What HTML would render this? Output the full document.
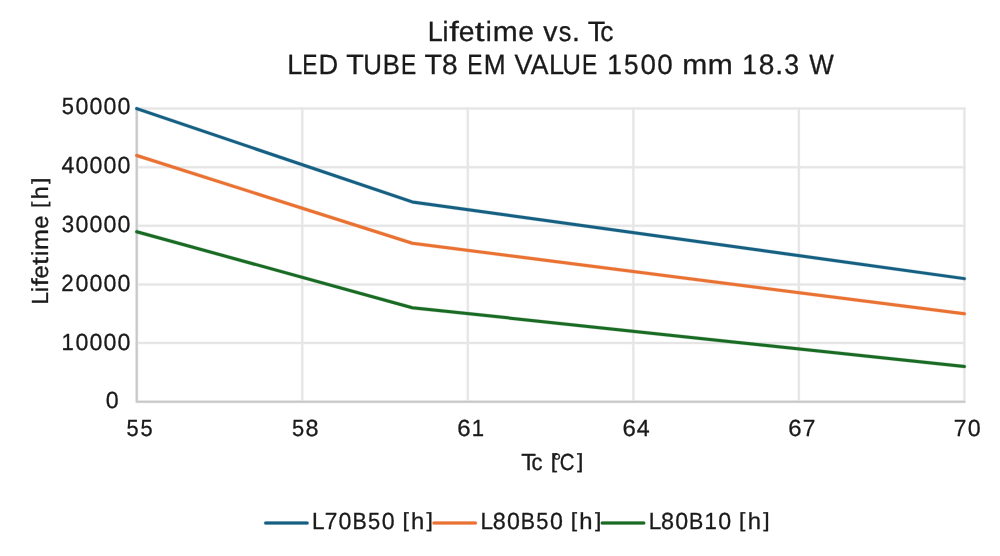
<!DOCTYPE html>
<html lang="en">
<head>
<meta charset="utf-8">
<title>Lifetime vs. Tc</title>
<style>
html,body{margin:0;padding:0;background:#fff;}
body{width:1000px;height:556px;overflow:hidden;}
svg{display:block;}
text{font-family:"Liberation Sans",sans-serif;fill:#1a1a1a;white-space:pre;font-kerning:none;text-rendering:geometricPrecision;stroke:#1a1a1a;stroke-width:0.3px;}
.t{filter:blur(0.3px);}
</style>
</head>
<body>
<svg width="1000" height="556" viewBox="0 0 1000 556">
<rect x="0" y="0" width="1000" height="556" fill="#ffffff"/>
<g fill="none" stroke="#f6f6f6" stroke-width="3.0">
<line x1="136.75" y1="343.12" x2="965.40" y2="343.12"/>
<line x1="136.75" y1="284.49" x2="965.40" y2="284.49"/>
<line x1="136.75" y1="225.86" x2="965.40" y2="225.86"/>
<line x1="136.75" y1="167.23" x2="965.40" y2="167.23"/>
<line x1="136.75" y1="108.60" x2="965.40" y2="108.60"/>
<line x1="302.28" y1="107.60" x2="302.28" y2="401.75"/>
<line x1="467.81" y1="107.60" x2="467.81" y2="401.75"/>
<line x1="633.34" y1="107.60" x2="633.34" y2="401.75"/>
<line x1="798.87" y1="107.60" x2="798.87" y2="401.75"/>
<line x1="964.40" y1="107.60" x2="964.40" y2="401.75"/>
</g>
<g fill="none" stroke="#e5e5e5" stroke-width="2">
<line x1="136.75" y1="343.12" x2="965.40" y2="343.12"/>
<line x1="136.75" y1="284.49" x2="965.40" y2="284.49"/>
<line x1="136.75" y1="225.86" x2="965.40" y2="225.86"/>
<line x1="136.75" y1="167.23" x2="965.40" y2="167.23"/>
<line x1="136.75" y1="108.60" x2="965.40" y2="108.60"/>
<line x1="302.28" y1="107.60" x2="302.28" y2="401.75"/>
<line x1="467.81" y1="107.60" x2="467.81" y2="401.75"/>
<line x1="633.34" y1="107.60" x2="633.34" y2="401.75"/>
<line x1="798.87" y1="107.60" x2="798.87" y2="401.75"/>
<line x1="964.40" y1="107.60" x2="964.40" y2="401.75"/>
</g>
<g fill="none" stroke-linejoin="round" stroke="#ececec" stroke-width="3.2">
<polyline points="136.75,107.60 136.75,401.75 965.40,401.75"/>
</g>
<g fill="none" stroke-linejoin="round" stroke="#c8c8c8" stroke-width="2">
<polyline points="136.75,107.60 136.75,401.75 965.40,401.75"/>
</g>
<g fill="none" stroke-width="4.0" stroke-opacity="0.25" stroke-linecap="round" stroke-linejoin="round">
<polyline stroke="#156082" points="136.75,108.60 412.25,201.91 964.40,278.63"/>
<polyline stroke="#e97132" points="136.75,155.50 412.25,243.21 964.40,313.81"/>
<polyline stroke="#196b24" points="136.75,231.72 412.25,307.68 964.40,366.57"/>
<line stroke="#156082" x1="265.60" y1="523.1" x2="307.20" y2="523.1"/>
<line stroke="#e97132" x1="433.90" y1="523.1" x2="475.50" y2="523.1"/>
<line stroke="#196b24" x1="602.20" y1="523.1" x2="643.80" y2="523.1"/>
</g>
<g fill="none" stroke-width="3" stroke-linecap="round" stroke-linejoin="round">
<polyline stroke="#156082" points="136.75,108.60 412.25,201.91 964.40,278.63"/>
<polyline stroke="#e97132" points="136.75,155.50 412.25,243.21 964.40,313.81"/>
<polyline stroke="#196b24" points="136.75,231.72 412.25,307.68 964.40,366.57"/>
<line stroke="#156082" x1="265.60" y1="523.1" x2="307.20" y2="523.1"/>
<line stroke="#e97132" x1="433.90" y1="523.1" x2="475.50" y2="523.1"/>
<line stroke="#196b24" x1="602.20" y1="523.1" x2="643.80" y2="523.1"/>
</g>
<g class="t">
<text transform="translate(427.30 41.40)" font-size="27.87"><tspan x="0.36" y="0" textLength="15.05" lengthAdjust="spacingAndGlyphs">L</tspan><tspan x="15.32" y="0" textLength="5.97" lengthAdjust="spacingAndGlyphs">i</tspan><tspan x="22.07" y="0" textLength="9.59" lengthAdjust="spacingAndGlyphs">f</tspan><tspan x="31.45" y="0" textLength="15.80" lengthAdjust="spacingAndGlyphs">e</tspan><tspan x="47.56" y="0" textLength="9.77" lengthAdjust="spacingAndGlyphs">t</tspan><tspan x="58.38" y="0" textLength="5.97" lengthAdjust="spacingAndGlyphs">i</tspan><tspan x="65.40" y="0" textLength="24.96" lengthAdjust="spacingAndGlyphs">m</tspan><tspan x="90.87" y="0" textLength="15.80" lengthAdjust="spacingAndGlyphs">e</tspan> <tspan x="115.84" y="0" textLength="14.19" lengthAdjust="spacingAndGlyphs">v</tspan><tspan x="131.44" y="0" textLength="12.61" lengthAdjust="spacingAndGlyphs">s</tspan><tspan x="144.64" y="0" textLength="7.91" lengthAdjust="spacingAndGlyphs">.</tspan> <tspan x="160.42" y="0" textLength="17.52" lengthAdjust="spacingAndGlyphs">T</tspan><tspan x="173.06" y="0" textLength="13.19" lengthAdjust="spacingAndGlyphs">c</tspan></text>
<text transform="translate(286.90 73.65)" font-size="27.92"><tspan x="0.36" y="0" textLength="15.08" lengthAdjust="spacingAndGlyphs">L</tspan><tspan x="15.38" y="0" textLength="15.23" lengthAdjust="spacingAndGlyphs">E</tspan><tspan x="31.66" y="0" textLength="19.69" lengthAdjust="spacingAndGlyphs">D</tspan> <tspan x="59.25" y="0" textLength="17.56" lengthAdjust="spacingAndGlyphs">T</tspan><tspan x="76.35" y="0" textLength="18.70" lengthAdjust="spacingAndGlyphs">U</tspan><tspan x="95.83" y="0" textLength="17.08" lengthAdjust="spacingAndGlyphs">B</tspan><tspan x="114.13" y="0" textLength="15.23" lengthAdjust="spacingAndGlyphs">E</tspan> <tspan x="137.71" y="0" textLength="17.56" lengthAdjust="spacingAndGlyphs">T</tspan><tspan x="155.10" y="0" textLength="15.62" lengthAdjust="spacingAndGlyphs">8</tspan> <tspan x="180.38" y="0" textLength="15.23" lengthAdjust="spacingAndGlyphs">E</tspan><tspan x="196.74" y="0" textLength="21.89" lengthAdjust="spacingAndGlyphs">M</tspan> <tspan x="227.49" y="0" textLength="17.84" lengthAdjust="spacingAndGlyphs">V</tspan><tspan x="243.90" y="0" textLength="17.71" lengthAdjust="spacingAndGlyphs">A</tspan><tspan x="262.13" y="0" textLength="15.08" lengthAdjust="spacingAndGlyphs">L</tspan><tspan x="275.43" y="0" textLength="18.70" lengthAdjust="spacingAndGlyphs">U</tspan><tspan x="295.13" y="0" textLength="15.23" lengthAdjust="spacingAndGlyphs">E</tspan> <tspan x="320.31" y="0" textLength="14.76" lengthAdjust="spacingAndGlyphs">1</tspan><tspan x="337.19" y="0" textLength="14.58" lengthAdjust="spacingAndGlyphs">5</tspan><tspan x="353.61" y="0" textLength="15.45" lengthAdjust="spacingAndGlyphs">0</tspan><tspan x="370.37" y="0" textLength="15.45" lengthAdjust="spacingAndGlyphs">0</tspan> <tspan x="395.26" y="0" textLength="25.01" lengthAdjust="spacingAndGlyphs">m</tspan><tspan x="420.92" y="0" textLength="25.01" lengthAdjust="spacingAndGlyphs">m</tspan> <tspan x="455.42" y="0" textLength="14.76" lengthAdjust="spacingAndGlyphs">1</tspan><tspan x="471.88" y="0" textLength="15.62" lengthAdjust="spacingAndGlyphs">8</tspan><tspan x="488.29" y="0" textLength="7.92" lengthAdjust="spacingAndGlyphs">.</tspan><tspan x="497.43" y="0" textLength="14.84" lengthAdjust="spacingAndGlyphs">3</tspan> <tspan x="522.34" y="0" textLength="24.52" lengthAdjust="spacingAndGlyphs">W</tspan></text>
<text transform="translate(105.60 408.40)" font-size="23.31"><tspan x="0.24" y="0" textLength="12.90" lengthAdjust="spacingAndGlyphs">0</tspan></text>
<text transform="translate(60.88 349.58)" font-size="23.31"><tspan x="0.73" y="0" textLength="12.32" lengthAdjust="spacingAndGlyphs">1</tspan><tspan x="14.53" y="0" textLength="12.90" lengthAdjust="spacingAndGlyphs">0</tspan><tspan x="28.53" y="0" textLength="12.90" lengthAdjust="spacingAndGlyphs">0</tspan><tspan x="42.53" y="0" textLength="12.90" lengthAdjust="spacingAndGlyphs">0</tspan><tspan x="56.53" y="0" textLength="12.90" lengthAdjust="spacingAndGlyphs">0</tspan></text>
<text transform="translate(60.88 290.76)" font-size="23.31"><tspan x="0.49" y="0" textLength="12.43" lengthAdjust="spacingAndGlyphs">2</tspan><tspan x="14.53" y="0" textLength="12.90" lengthAdjust="spacingAndGlyphs">0</tspan><tspan x="28.53" y="0" textLength="12.90" lengthAdjust="spacingAndGlyphs">0</tspan><tspan x="42.53" y="0" textLength="12.90" lengthAdjust="spacingAndGlyphs">0</tspan><tspan x="56.53" y="0" textLength="12.90" lengthAdjust="spacingAndGlyphs">0</tspan></text>
<text transform="translate(60.88 231.94)" font-size="23.31"><tspan x="0.83" y="0" textLength="12.39" lengthAdjust="spacingAndGlyphs">3</tspan><tspan x="14.53" y="0" textLength="12.90" lengthAdjust="spacingAndGlyphs">0</tspan><tspan x="28.53" y="0" textLength="12.90" lengthAdjust="spacingAndGlyphs">0</tspan><tspan x="42.53" y="0" textLength="12.90" lengthAdjust="spacingAndGlyphs">0</tspan><tspan x="56.53" y="0" textLength="12.90" lengthAdjust="spacingAndGlyphs">0</tspan></text>
<text transform="translate(60.88 173.12)" font-size="23.31"><tspan x="0.54" y="0" textLength="12.90" lengthAdjust="spacingAndGlyphs">4</tspan><tspan x="14.53" y="0" textLength="12.90" lengthAdjust="spacingAndGlyphs">0</tspan><tspan x="28.53" y="0" textLength="12.90" lengthAdjust="spacingAndGlyphs">0</tspan><tspan x="42.53" y="0" textLength="12.90" lengthAdjust="spacingAndGlyphs">0</tspan><tspan x="56.53" y="0" textLength="12.90" lengthAdjust="spacingAndGlyphs">0</tspan></text>
<text transform="translate(60.88 114.30)" font-size="23.31"><tspan x="0.82" y="0" textLength="12.17" lengthAdjust="spacingAndGlyphs">5</tspan><tspan x="14.53" y="0" textLength="12.90" lengthAdjust="spacingAndGlyphs">0</tspan><tspan x="28.53" y="0" textLength="12.90" lengthAdjust="spacingAndGlyphs">0</tspan><tspan x="42.53" y="0" textLength="12.90" lengthAdjust="spacingAndGlyphs">0</tspan><tspan x="56.53" y="0" textLength="12.90" lengthAdjust="spacingAndGlyphs">0</tspan></text>
<text transform="translate(125.77 436.25)" font-size="23.31"><tspan x="0.82" y="0" textLength="12.17" lengthAdjust="spacingAndGlyphs">5</tspan><tspan x="14.81" y="0" textLength="12.17" lengthAdjust="spacingAndGlyphs">5</tspan></text>
<text transform="translate(291.11 436.25)" font-size="23.31"><tspan x="0.82" y="0" textLength="12.17" lengthAdjust="spacingAndGlyphs">5</tspan><tspan x="14.46" y="0" textLength="13.04" lengthAdjust="spacingAndGlyphs">8</tspan></text>
<text transform="translate(457.00 436.25)" font-size="23.31"><tspan x="0.32" y="0" textLength="13.35" lengthAdjust="spacingAndGlyphs">6</tspan><tspan x="14.71" y="0" textLength="12.32" lengthAdjust="spacingAndGlyphs">1</tspan></text>
<text transform="translate(622.15 436.25)" font-size="23.31"><tspan x="0.32" y="0" textLength="13.35" lengthAdjust="spacingAndGlyphs">6</tspan><tspan x="14.53" y="0" textLength="12.90" lengthAdjust="spacingAndGlyphs">4</tspan></text>
<text transform="translate(788.02 436.25)" font-size="23.31"><tspan x="0.32" y="0" textLength="13.35" lengthAdjust="spacingAndGlyphs">6</tspan><tspan x="14.63" y="0" textLength="12.62" lengthAdjust="spacingAndGlyphs">7</tspan></text>
<text transform="translate(953.23 436.25)" font-size="23.31"><tspan x="0.64" y="0" textLength="12.62" lengthAdjust="spacingAndGlyphs">7</tspan><tspan x="14.53" y="0" textLength="12.90" lengthAdjust="spacingAndGlyphs">0</tspan></text>
<text transform="translate(48.00 304.70) rotate(-90)" font-size="23.31"><tspan x="0.30" y="0" textLength="12.59" lengthAdjust="spacingAndGlyphs">L</tspan><tspan x="12.82" y="0" textLength="5.00" lengthAdjust="spacingAndGlyphs">i</tspan><tspan x="18.46" y="0" textLength="8.03" lengthAdjust="spacingAndGlyphs">f</tspan><tspan x="26.31" y="0" textLength="13.22" lengthAdjust="spacingAndGlyphs">e</tspan><tspan x="39.79" y="0" textLength="8.17" lengthAdjust="spacingAndGlyphs">t</tspan><tspan x="48.83" y="0" textLength="5.00" lengthAdjust="spacingAndGlyphs">i</tspan><tspan x="54.71" y="0" textLength="20.88" lengthAdjust="spacingAndGlyphs">m</tspan><tspan x="76.02" y="0" textLength="13.22" lengthAdjust="spacingAndGlyphs">e</tspan> <tspan x="96.60" y="-1.87" font-size="20.34" textLength="6.37" lengthAdjust="spacingAndGlyphs">[</tspan><tspan x="105.26" y="0" textLength="13.28" lengthAdjust="spacingAndGlyphs">h</tspan><tspan x="120.82" y="-1.87" font-size="20.34" textLength="6.37" lengthAdjust="spacingAndGlyphs">]</tspan></text>
<text transform="translate(522.30 470.00)" font-size="23.31"><tspan x="-1.00" y="0" textLength="14.66" lengthAdjust="spacingAndGlyphs">T</tspan><tspan x="9.26" y="0" textLength="11.04" lengthAdjust="spacingAndGlyphs">c</tspan> <tspan x="28.54" y="-1.87" font-size="20.34" textLength="6.37" lengthAdjust="spacingAndGlyphs">[</tspan><tspan x="30.27" y="-1.22" font-size="22.15">°</tspan><tspan x="37.36" y="0" textLength="14.75" lengthAdjust="spacingAndGlyphs">C</tspan><tspan x="54.68" y="-1.87" font-size="20.34" textLength="6.37" lengthAdjust="spacingAndGlyphs">]</tspan></text>
<text transform="translate(311.80 529.00)" font-size="23.31"><tspan x="0.30" y="0" textLength="12.59" lengthAdjust="spacingAndGlyphs">L</tspan><tspan x="12.89" y="0" textLength="12.62" lengthAdjust="spacingAndGlyphs">7</tspan><tspan x="26.79" y="0" textLength="12.90" lengthAdjust="spacingAndGlyphs">0</tspan><tspan x="40.66" y="0" textLength="14.26" lengthAdjust="spacingAndGlyphs">B</tspan><tspan x="56.16" y="0" textLength="12.17" lengthAdjust="spacingAndGlyphs">5</tspan><tspan x="69.87" y="0" textLength="12.90" lengthAdjust="spacingAndGlyphs">0</tspan> <tspan x="90.58" y="-1.87" font-size="20.34" textLength="6.37" lengthAdjust="spacingAndGlyphs">[</tspan><tspan x="99.25" y="0" textLength="13.28" lengthAdjust="spacingAndGlyphs">h</tspan><tspan x="114.80" y="-1.87" font-size="20.34" textLength="6.37" lengthAdjust="spacingAndGlyphs">]</tspan></text>
<text transform="translate(480.10 529.00)" font-size="23.31"><tspan x="0.30" y="0" textLength="12.59" lengthAdjust="spacingAndGlyphs">L</tspan><tspan x="12.72" y="0" textLength="13.04" lengthAdjust="spacingAndGlyphs">8</tspan><tspan x="26.79" y="0" textLength="12.90" lengthAdjust="spacingAndGlyphs">0</tspan><tspan x="40.66" y="0" textLength="14.26" lengthAdjust="spacingAndGlyphs">B</tspan><tspan x="56.16" y="0" textLength="12.17" lengthAdjust="spacingAndGlyphs">5</tspan><tspan x="69.87" y="0" textLength="12.90" lengthAdjust="spacingAndGlyphs">0</tspan> <tspan x="90.58" y="-1.87" font-size="20.34" textLength="6.37" lengthAdjust="spacingAndGlyphs">[</tspan><tspan x="99.25" y="0" textLength="13.28" lengthAdjust="spacingAndGlyphs">h</tspan><tspan x="114.80" y="-1.87" font-size="20.34" textLength="6.37" lengthAdjust="spacingAndGlyphs">]</tspan></text>
<text transform="translate(648.40 529.00)" font-size="23.31"><tspan x="0.30" y="0" textLength="12.59" lengthAdjust="spacingAndGlyphs">L</tspan><tspan x="12.72" y="0" textLength="13.04" lengthAdjust="spacingAndGlyphs">8</tspan><tspan x="26.79" y="0" textLength="12.90" lengthAdjust="spacingAndGlyphs">0</tspan><tspan x="40.66" y="0" textLength="14.26" lengthAdjust="spacingAndGlyphs">B</tspan><tspan x="56.07" y="0" textLength="12.32" lengthAdjust="spacingAndGlyphs">1</tspan><tspan x="69.87" y="0" textLength="12.90" lengthAdjust="spacingAndGlyphs">0</tspan> <tspan x="90.58" y="-1.87" font-size="20.34" textLength="6.37" lengthAdjust="spacingAndGlyphs">[</tspan><tspan x="99.25" y="0" textLength="13.28" lengthAdjust="spacingAndGlyphs">h</tspan><tspan x="114.80" y="-1.87" font-size="20.34" textLength="6.37" lengthAdjust="spacingAndGlyphs">]</tspan></text>
</g>
</svg>
</body>
</html>
